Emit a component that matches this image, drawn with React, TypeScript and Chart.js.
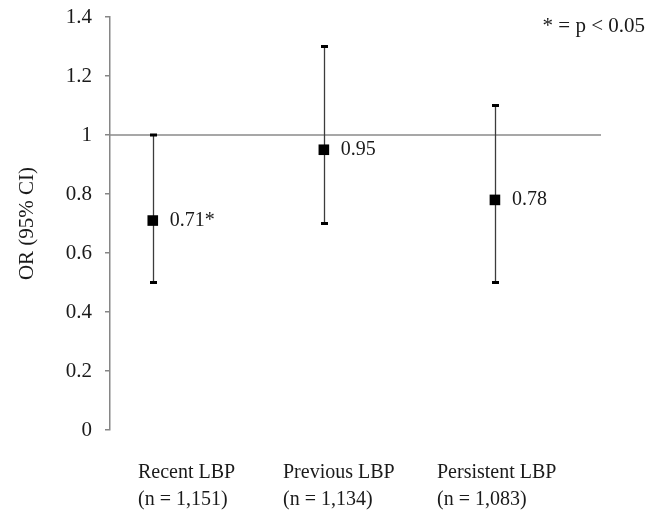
import React, { useEffect, useRef } from 'react';
import { Chart, registerables } from 'chart.js';

Chart.register(...registerables);

// Odds ratios (95% CI) for each low back pain group
const groups = ['Recent LBP', 'Previous LBP', 'Persistent LBP'];
const sampleSizes = ['(n = 1,151)', '(n = 1,134)', '(n = 1,083)'];
const groupX = [1, 2, 3];
const oddsRatios = [0.71, 0.95, 0.78];
const ciLower = [0.5, 0.7, 0.5];
const ciUpper = [1.0, 1.3, 1.1];
const significant = [true, false, false];
const referenceOR = 1;
const yTicks = [0, 0.2, 0.4, 0.6, 0.8, 1, 1.2, 1.4];
const yTitle = 'OR (95% CI)';
const footnote = '* = p < 0.05';

const FONT = "'Liberation Serif', 'Times New Roman', serif";
const TEXT = '#1a1a1a';
const AXIS = '#868686';

const forestPlugin = {
  id: 'forestPlot',
  beforeDatasetsDraw(chart: any) {
    const { ctx, chartArea, scales } = chart;
    const x = scales.x;
    const y = scales.y;
    ctx.save();
    // null-effect reference line
    const yRef = y.getPixelForValue(referenceOR);
    ctx.strokeStyle = '#8a8a8a';
    ctx.lineWidth = 1.5;
    ctx.beginPath();
    ctx.moveTo(chartArea.left, yRef);
    ctx.lineTo(chartArea.right, yRef);
    ctx.stroke();
    // confidence interval whiskers
    groupX.forEach((gx, i) => {
      const px = Math.round(x.getPixelForValue(gx)) + 0.5;
      const top = y.getPixelForValue(ciUpper[i]);
      const bot = y.getPixelForValue(ciLower[i]);
      ctx.strokeStyle = '#3c3c3c';
      ctx.lineWidth = 1.3;
      ctx.beginPath();
      ctx.moveTo(px, top);
      ctx.lineTo(px, bot);
      ctx.stroke();
      ctx.fillStyle = '#000';
      ctx.fillRect(px - 3.5, top - 1.5, 7, 3);
      ctx.fillRect(px - 3.5, bot - 1.5, 7, 3);
    });
    ctx.restore();
  },
  afterDatasetsDraw(chart: any) {
    const { ctx, scales } = chart;
    const x = scales.x;
    const y = scales.y;
    ctx.save();
    ctx.font = `20px ${FONT}`;
    ctx.fillStyle = TEXT;
    ctx.textBaseline = 'middle';
    ctx.textAlign = 'left';
    // value labels beside each marker
    groupX.forEach((gx, i) => {
      const px = x.getPixelForValue(gx);
      const py = y.getPixelForValue(oddsRatios[i]);
      const txt = oddsRatios[i].toFixed(2) + (significant[i] ? '*' : '');
      ctx.fillText(txt, px + 17, py);
    });
    // group names under the plot
    const labelLeft = [138, 283, 437];
    groups.forEach((g, i) => {
      ctx.fillText(g, labelLeft[i], 473);
      ctx.fillText(sampleSizes[i], labelLeft[i], 500);
    });
    // significance note
    ctx.font = `21px ${FONT}`;
    ctx.textAlign = 'right';
    ctx.fillText(footnote, 645, 26);
    ctx.restore();
  },
};

export default function App() {
  const canvasRef = useRef<HTMLCanvasElement | null>(null);

  useEffect(() => {
    const canvas = canvasRef.current;
    if (!canvas) return;
    const chart = new Chart(canvas, {
      type: 'scatter',
      data: {
        datasets: [
          {
            data: groupX.map((gx, i) => ({ x: gx, y: oddsRatios[i] })),
            pointStyle: 'rect',
            pointRadius: 7.5,
            backgroundColor: '#000',
            borderColor: '#000',
            borderWidth: 0,
          },
        ],
      },
      options: {
        animation: false,
        responsive: false,
        events: [],
        layout: { padding: { top: 17, right: 57, bottom: 80, left: 0 } },
        plugins: {
          legend: { display: false },
          tooltip: { enabled: false },
        },
        scales: {
          x: {
            type: 'linear',
            min: 0.75,
            max: 3.62,
            display: false,
          },
          y: {
            type: 'linear',
            min: 0,
            max: 1.4,
            afterBuildTicks: (scale: any) => {
              scale.ticks = yTicks.map((v) => ({ value: v }));
            },
            afterFit: (scale: any) => {
              scale.width = 110;
              scale.paddingTop = 0;
              scale.paddingBottom = 0;
            },
            ticks: {
              color: TEXT,
              padding: 13,
              font: { family: FONT, size: 21, lineHeight: 0.6 },
              callback: (v: any) => String(Number(Number(v).toFixed(1))),
            },
            grid: {
              drawOnChartArea: false,
              drawTicks: true,
              tickLength: 5,
              color: AXIS,
              lineWidth: 1.5,
            },
            border: { display: true, color: AXIS, width: 1.5 },
            title: {
              display: true,
              text: yTitle,
              color: TEXT,
              font: { family: FONT, size: 21 },
              padding: { top: 14.5, bottom: 0 },
            },
          },
        },
      },
      plugins: [forestPlugin],
    });
    return () => chart.destroy();
  }, []);

  return (
    <div style={{ position: 'fixed', left: 0, top: 0, width: 658, height: 510, background: '#fff' }}>
      <canvas ref={canvasRef} width={658} height={510} />
    </div>
  );
}
